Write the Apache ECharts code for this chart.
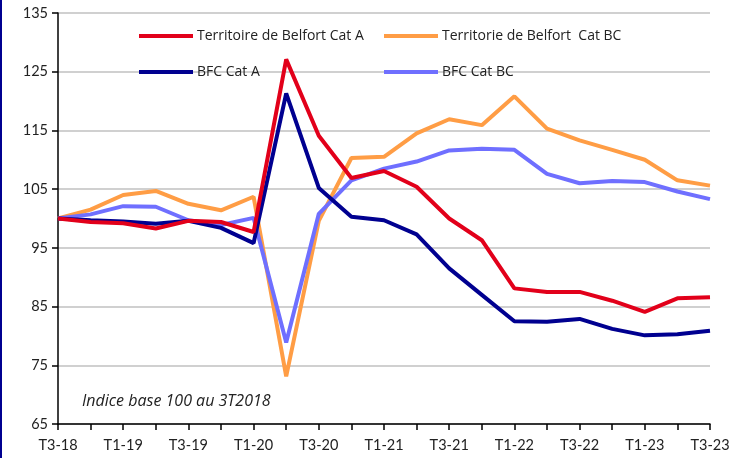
<!DOCTYPE html>
<html>
<head>
<meta charset="utf-8">
<script src="https://cdn.jsdelivr.net/npm/echarts@6/dist/echarts.min.js"></script>
<style>
  html, body { margin: 0; padding: 0; background: #fff; }
  #Chart { width: 744px; height: 458px; }
</style>
</head>
<body>
<div id="Chart"></div>
<script>
// trimestres (T3-18 -> T3-23)
var quarters = [
  "T3-18", "T4-18", "T1-19", "T2-19", "T3-19", "T4-19", "T1-20", "T2-20", "T3-20", "T4-20",
  "T1-21", "T2-21", "T3-21", "T4-21", "T1-22", "T2-22", "T3-22", "T4-22", "T1-23", "T2-23", "T3-23"
];
var belfortA = [100, 99.4, 99.2, 98.3, 99.6, 99.4, 97.7, 127.1, 114.1, 106.9,
  108.1, 105.4, 100, 96.3, 88.1, 87.5, 87.5, 86, 84.1, 86.4, 86.6];
var belfortBC = [100, 101.5, 104, 104.7, 102.5, 101.4, 103.7, 73.1, 99.6, 110.3,
  110.5, 114.5, 116.9, 115.9, 120.8, 115.3, 113.3, 111.7, 110, 106.5, 105.6];
var bfcA = [100, 99.7, 99.5, 99.1, 99.6, 98.4, 95.8, 121.3, 105.2, 100.3,
  99.7, 97.3, 91.5, 87, 82.5, 82.4, 82.9, 81.2, 80.1, 80.3, 80.9];
var bfcBC = [100, 100.7, 102.1, 102, 99.7, 98.9, 100.1, 78.9, 100.8, 106.5,
  108.5, 109.7, 111.6, 111.9, 111.7, 107.6, 106, 106.4, 106.2, 104.6, 103.3];
var names = ["Territoire de Belfort Cat A", "Territorie de Belfort  Cat BC", "BFC Cat A", "BFC Cat BC"];
var colors = ["#e2001a", "#ff9d45", "#000090", "#6f6fff"];

var chart = echarts.init(document.getElementById("Chart"));
var font = "Lato, 'Open Sans', sans-serif";
var font2 = "'Open Sans', sans-serif";

function line(name, data, color) {
  return {
    type: "line",
    name: name,
    data: data,
    symbol: "none",
    color: color,
    lineStyle: { width: 4, color: color }
  };
}

var legendBase = {
  orient: "vertical",
  top: 24,
  itemGap: 22,
  itemWidth: 54,
  itemHeight: 4,
  icon: "rect",
  textStyle: { fontSize: 14, color: "#222", fontFamily: font2, padding: [0, 0, 0, -1] }
};

var option = {
  animation: false,
  color: colors,
  grid: { left: 58, right: 34, top: 13, bottom: 34 },
  legend: [
    Object.assign({}, legendBase, { left: 134, data: [names[0], names[2]] }),
    Object.assign({}, legendBase, { left: 379, data: [names[1], names[3]] })
  ],
  xAxis: {
    type: "category",
    boundaryGap: false,
    data: quarters,
    axisLine: { lineStyle: { color: "#000", width: 1.5 } },
    axisTick: { show: true, interval: 0, length: 6, lineStyle: { color: "#000", width: 1.5 } },
    axisLabel: { interval: 1, fontSize: 14.5, color: "#222", margin: 14, fontFamily: font }
  },
  yAxis: {
    type: "value",
    min: 65,
    max: 135,
    interval: 10,
    axisLine: { show: true, lineStyle: { color: "#000", width: 1.5 } },
    axisTick: { show: true, length: 6, lineStyle: { color: "#000", width: 1.5 } },
    axisLabel: { fontSize: 14.5, color: "#222", margin: 10, fontFamily: font },
    splitLine: { lineStyle: { color: "#c0c0c0", width: 1.5 } }
  },
  graphic: [
    {
      type: "rect",
      left: 0,
      top: 0,
      shape: { width: 2, height: 458 },
      style: { fill: "#000090" }
    },
    {
      type: "text",
      left: 82,
      top: 393,
      style: {
        text: "Indice base 100 au 3T2018",
        fontSize: 16,
        fontStyle: "italic",
        fontFamily: font2,
        fill: "#222"
      }
    }
  ],
  series: [
    line(names[1], belfortBC, colors[1]),
    line(names[3], bfcBC, colors[3]),
    line(names[2], bfcA, colors[2]),
    line(names[0], belfortA, colors[0])
  ]
};
chart.setOption(option);
</script>
</body>
</html>
